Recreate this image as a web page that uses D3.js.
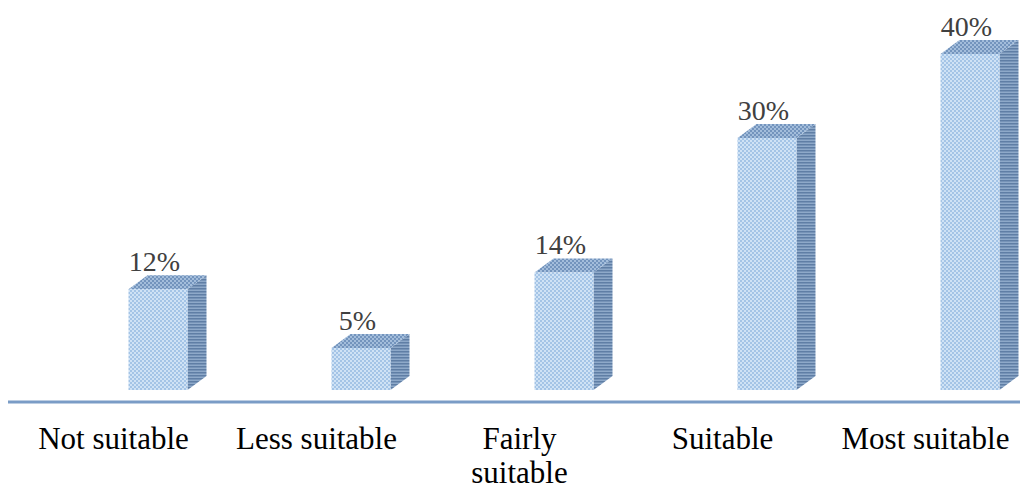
<!DOCTYPE html>
<html>
<head>
<meta charset="utf-8">
<script src="https://cdn.jsdelivr.net/npm/d3@7"></script>
</head>
<body style="margin:0">
<svg id="s" width="1020" height="488"></svg>
<script>
// Suitability ratings, share of respondents (%)
const categories = [["Not suitable"], ["Less suitable"], ["Fairly", "suitable"], ["Suitable"], ["Most suitable"]];
const values = [12, 5, 14, 30, 40];
const valueLabels = ["12%", "5%", "14%", "30%", "40%"];

const W = 1020;
const svg = d3.select("#s");

const keys = categories.map(c => c.join(" "));
const x = d3.scaleBand().domain(keys).range([12, 1027]).padding(0);
const y = d3.scaleLinear().domain([0, 40]).range([390, 54]);

const barW = 59, dx = 19, dy = 14, shift = 15;

// Textured fills for the three visible faces of each box
const defs = svg.append("defs");
function dotPattern(id, bg, fg) {
  const p = defs.append("pattern").attr("id", id)
    .attr("patternUnits", "userSpaceOnUse").attr("width", 4).attr("height", 4);
  p.append("rect").attr("width", 4).attr("height", 4).attr("fill", bg);
  p.append("rect").attr("x", 0).attr("y", 0).attr("width", 2).attr("height", 2).attr("fill", fg);
  p.append("rect").attr("x", 2).attr("y", 2).attr("width", 2).attr("height", 2).attr("fill", fg);
}
dotPattern("front", "#cfe2f5", "#a4c4e6");
dotPattern("top", "#a3bddb", "#7394bd");
function stripePattern(id, bg, fg) {
  const p = defs.append("pattern").attr("id", id)
    .attr("patternUnits", "userSpaceOnUse").attr("width", 3).attr("height", 3);
  p.append("rect").attr("width", 3).attr("height", 3).attr("fill", bg);
  p.append("rect").attr("width", 3).attr("height", 1.5).attr("fill", fg);
}
stripePattern("side", "#8ea9c9", "#5f7ea5");

const bars = svg.append("g").selectAll("g").data(values).join("g");

bars.each(function (v, i) {
  const g = d3.select(this);
  const x0 = x(keys[i]) + x.bandwidth() / 2 + shift;
  const x1 = x0 + barW;
  const yt = y(v), yb = y(0);
  // side face
  g.append("path")
    .attr("d", `M${x1},${yt} L${x1 + dx},${yt - dy} L${x1 + dx},${yb - dy} L${x1},${yb} Z`)
    .attr("fill", "url(#side)");
  // top face
  g.append("path")
    .attr("d", `M${x0},${yt} L${x0 + dx},${yt - dy} L${x1 + dx},${yt - dy} L${x1},${yt} Z`)
    .attr("fill", "url(#top)");
  // front face
  g.append("rect")
    .attr("x", x0).attr("y", yt).attr("width", barW).attr("height", yb - yt)
    .attr("fill", "url(#front)");
});

// value labels
svg.selectAll("text.val").data(values).join("text")
  .attr("class", "val")
  .attr("x", (v, i) => x(keys[i]) + x.bandwidth() / 2 + shift + 26)
  .attr("y", v => y(v) - 18)
  .attr("text-anchor", "middle")
  .attr("font-size", 28)
  .style("font-family", '"Liberation Serif"')
  .attr("fill", "#404040")
  .text((v, i) => valueLabels[i]);

// category axis line
svg.append("line")
  .attr("x1", 8).attr("x2", W).attr("y1", 402).attr("y2", 402)
  .attr("stroke", "#7a9cc6").attr("stroke-width", 3);

// category labels, one text element per line
const catLines = [];
categories.forEach((lines, i) => lines.forEach((line, j) => catLines.push({ i, j, line })));
svg.selectAll("text.cat").data(catLines).join("text")
  .attr("class", "cat")
  .attr("x", d => x(keys[d.i]) + x.bandwidth() / 2)
  .attr("y", d => 449 + d.j * 34)
  .attr("text-anchor", "middle")
  .attr("font-size", 31)
  .style("font-family", '"Liberation Serif"')
  .attr("fill", "#000")
  .text(d => d.line);
</script>
</body>
</html>
